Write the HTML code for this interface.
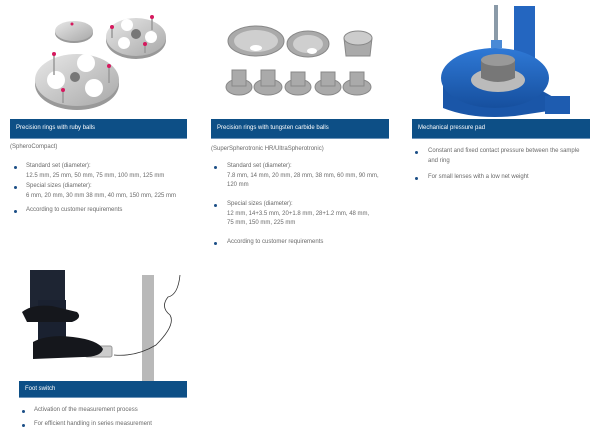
<!DOCTYPE html>
<html><head><meta charset="utf-8"><style>
body{margin:0;width:600px;height:435px;background:#fff;position:relative;overflow:hidden;font-family:"Liberation Sans",sans-serif}
.h{position:absolute;background:#0d4f86;color:#fff;font-size:6px;line-height:19px;padding-left:6px;box-sizing:border-box;border-bottom:1px solid #6c93b8}
.t{position:absolute;font-size:6px;color:#6a6a6a;line-height:9.6px;white-space:nowrap}
.b{position:absolute;width:3px;height:3px;border-radius:50%;background:#1b4f86}
svg{position:absolute;left:0;top:0}
</style></head><body>
<svg width="600" height="435">
<defs>
<linearGradient id="m" x1="0" y1="0" x2="1" y2="1"><stop offset="0" stop-color="#e8e8e8"/><stop offset="1" stop-color="#a8a8a8"/></linearGradient>
<linearGradient id="bl" x1="0" y1="0" x2="0" y2="1"><stop offset="0" stop-color="#2f79d6"/><stop offset="1" stop-color="#164f9e"/></linearGradient>
</defs>
<ellipse cx="74" cy="33" rx="19" ry="10" fill="#999"/><ellipse cx="74" cy="31" rx="19" ry="10" fill="url(#m)"/>
<ellipse cx="136" cy="40" rx="30" ry="19" fill="#999"/><ellipse cx="136" cy="37" rx="30" ry="19" fill="url(#m)"/>
<ellipse cx="77" cy="84" rx="42" ry="26" fill="#999"/><ellipse cx="77" cy="80" rx="42" ry="26" fill="url(#m)"/>
<g fill="#fff"><circle cx="86" cy="63" r="9"/><circle cx="56" cy="80" r="9"/><circle cx="94" cy="88" r="9"/><circle cx="127" cy="25" r="6"/><circle cx="151" cy="37" r="6"/><circle cx="124" cy="43" r="6"/></g>
<circle cx="75" cy="77" r="5" fill="#777"/><circle cx="136" cy="34" r="5" fill="#777"/>
<g stroke="#999" stroke-width="1.5"><line x1="54" y1="55" x2="54" y2="75"/><line x1="109" y1="67" x2="109" y2="83"/><line x1="63" y1="91" x2="63" y2="103"/><line x1="112" y1="28" x2="112" y2="38"/><line x1="152" y1="18" x2="152" y2="30"/><line x1="145" y1="45" x2="145" y2="53"/></g>
<g fill="#d6195e"><circle cx="54" cy="54" r="2"/><circle cx="109" cy="66" r="2"/><circle cx="63" cy="90" r="2"/><circle cx="112" cy="27" r="2"/><circle cx="152" cy="17" r="2"/><circle cx="145" cy="44" r="2"/><circle cx="72" cy="24" r="1.5"/></g>
<g fill="#aaa" stroke="#888" stroke-width="1">
<ellipse cx="256" cy="41" rx="28" ry="15"/><ellipse cx="308" cy="44" rx="21" ry="13"/><path d="M344 38 h28 l-2 18 h-24z"/><ellipse cx="358" cy="38" rx="14" ry="7" fill="#ccc"/>
<ellipse cx="239" cy="87" rx="13" ry="8"/><ellipse cx="268" cy="87" rx="14" ry="8"/><ellipse cx="298" cy="87" rx="13" ry="8"/><ellipse cx="328" cy="87" rx="13" ry="8"/><ellipse cx="357" cy="87" rx="14" ry="8"/>
<rect x="232" y="70" width="14" height="16"/><rect x="261" y="70" width="14" height="16"/><rect x="291" y="72" width="14" height="14"/><rect x="321" y="72" width="14" height="14"/><rect x="350" y="72" width="14" height="14"/>
</g>
<ellipse cx="256" cy="41" rx="22" ry="11" fill="#cfcfcf"/><ellipse cx="256" cy="48" rx="6" ry="3" fill="#fff"/><ellipse cx="308" cy="44" rx="15" ry="9" fill="#cfcfcf"/><ellipse cx="312" cy="51" rx="5" ry="3" fill="#fff"/>
<rect x="514" y="6" width="21" height="60" fill="#2466c0"/>
<path d="M443 78 v30 q30 12 72 8 l40 -6 v-12 l-18 -10 z" fill="#1a56a8"/>
<ellipse cx="495" cy="78" rx="54" ry="30" fill="url(#bl)"/>
<rect x="545" y="96" width="25" height="18" fill="#1e5cb0"/>
<ellipse cx="498" cy="80" rx="27" ry="12" fill="#bbb"/>
<path d="M481 60 h34 v18 q-17 8 -34 0z" fill="#777"/><ellipse cx="498" cy="60" rx="17" ry="6" fill="#999"/>
<rect x="494" y="5" width="4" height="40" fill="#8a9aa8"/><rect x="491" y="40" width="11" height="8" fill="#4a8ad6"/>
<rect x="142" y="275" width="12" height="107" fill="#b9b9b9"/>
<path d="M180 275 q-2 20 -12 22 q-8 10 2 18 q6 10 -14 30 q-20 12 -42 10" fill="none" stroke="#333" stroke-width="0.8"/>
<rect x="85" y="346" width="27" height="11" rx="2" fill="#ccc" stroke="#999"/>
<rect x="30" y="270" width="35" height="45" fill="#1e2533"/><rect x="38" y="300" width="28" height="40" fill="#1a2130"/>
<path d="M22 312 q10 -8 30 -6 l25 6 q6 6 -5 10 l-45 0z" fill="#15171c"/>
<path d="M33 342 q15 -8 40 -5 q25 3 30 12 q-2 8 -20 8 l-50 2z" fill="#15171c"/>
</svg>

<div class="h" style="left:10px;top:119px;width:177px;height:20px">Precision rings with ruby balls</div>
<div class="h" style="left:211px;top:119px;width:178px;height:20px">Precision rings with tungsten carbide balls</div>
<div class="h" style="left:412px;top:119px;width:178px;height:20px">Mechanical pressure pad</div>
<div class="h" style="left:19px;top:381px;width:168px;height:17px;line-height:16px">Foot switch</div>

<div class="t" style="left:10px;top:143px">(SpheroCompact)</div>
<div class="b" style="left:14px;top:166px"></div><div class="t" style="left:26px;top:162px">Standard set (diameter):<br>12.5 mm, 25 mm, 50 mm, 75 mm, 100 mm, 125 mm</div>
<div class="b" style="left:14px;top:186px"></div><div class="t" style="left:26px;top:182px">Special sizes (diameter):<br>6 mm, 20 mm, 30 mm 38 mm, 40 mm, 150 mm, 225 mm</div>
<div class="b" style="left:14px;top:210px"></div><div class="t" style="left:26px;top:206px">According to customer requirements</div>

<div class="t" style="left:211px;top:145px">(SuperSpherotronic HR/UltraSpherotronic)</div>
<div class="b" style="left:214px;top:166px"></div><div class="t" style="left:227px;top:162px">Standard set (diameter):<br>7.8 mm, 14 mm, 20 mm, 28 mm, 38 mm, 60 mm, 90 mm,<br>120 mm</div>
<div class="b" style="left:214px;top:204px"></div><div class="t" style="left:227px;top:200px">Special sizes (diameter):<br>12 mm, 14+3.5 mm, 20+1.8 mm, 28+1.2 mm, 48 mm,<br>75 mm, 150 mm, 225 mm</div>
<div class="b" style="left:214px;top:242px"></div><div class="t" style="left:227px;top:238px">According to customer requirements</div>

<div class="b" style="left:415px;top:151px"></div><div class="t" style="left:428px;top:147px">Constant and fixed contact pressure between the sample<br>and ring</div>
<div class="b" style="left:415px;top:177px"></div><div class="t" style="left:428px;top:173px">For small lenses with a low net weight</div>

<div class="b" style="left:22px;top:410px"></div><div class="t" style="left:34px;top:406px">Activation of the measurement process</div>
<div class="b" style="left:22px;top:424px"></div><div class="t" style="left:34px;top:420px">For efficient handling in series measurement</div>
</body></html>
